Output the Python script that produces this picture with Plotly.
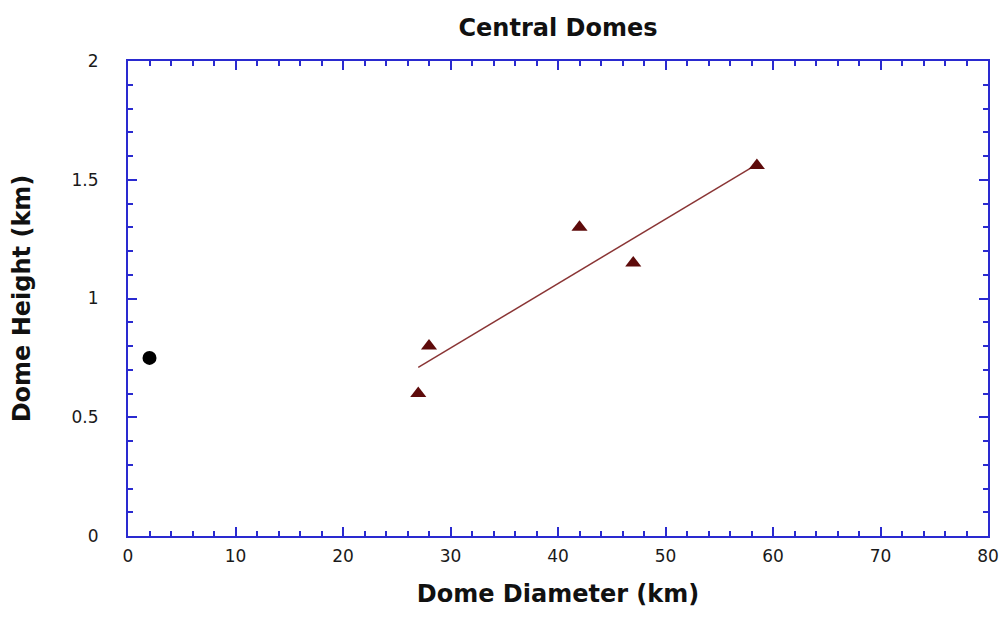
import plotly.graph_objects as go

# data
mars_x = [2]
mars_y = [0.75]
dome_x = [27, 28, 42, 47, 58.5]
dome_y = [0.60, 0.80, 1.30, 1.15, 1.56]
fit_x = [27, 58.5]
fit_y = [0.71, 1.565]

axis_color = "#2a2ad0"
font_fam = "DejaVu Sans, sans-serif"

fig = go.Figure()
fig.add_trace(go.Scatter(x=fit_x, y=fit_y, mode="lines",
                         line=dict(color="#8a3535", width=1.5), showlegend=False))
fig.add_trace(go.Scatter(x=dome_x, y=dome_y, mode="markers",
                         marker=dict(symbol="triangle-up", size=14, color="#5e0b0b"),
                         showlegend=False))
fig.add_trace(go.Scatter(x=mars_x, y=mars_y, mode="markers",
                         marker=dict(symbol="circle", size=14, color="#000000"),
                         showlegend=False))

axis_common = dict(
    showline=True, linecolor=axis_color, linewidth=2, mirror="ticks",
    ticks="inside", tickcolor=axis_color, tickwidth=2, ticklen=9,
    showgrid=False, zeroline=False, automargin=False,
    tickfont=dict(family=font_fam, size=17, color="#1a1a1a"),
)

fig.update_layout(
    width=1000, height=617,
    margin=dict(l=128, r=12, t=61, b=81),
    paper_bgcolor="white", plot_bgcolor="white",
    title=dict(text="<b>Central Domes</b>", x=0.558, xanchor="center", y=0.956, yanchor="middle",
               font=dict(family=font_fam, size=24, color="#111111")),
    xaxis=dict(range=[0, 80], tickvals=[0, 10, 20, 30, 40, 50, 60, 70, 80],
               ticklabelstandoff=4,
               minor=dict(dtick=2, ticks="inside", ticklen=5, tickwidth=2, tickcolor=axis_color),
               title=dict(text="<b>Dome Diameter (km)</b>", standoff=20,
                          font=dict(family=font_fam, size=24, color="#111111")),
               **axis_common),
    yaxis=dict(range=[0, 2], tickvals=[0, 0.5, 1, 1.5, 2], ticktext=["0", "0.5", "1", "1.5", "2"],
               ticklabelstandoff=24,
               minor=dict(dtick=0.1, ticks="inside", ticklen=5, tickwidth=2, tickcolor=axis_color),
               title=dict(text="<b>Dome Height (km)</b>", standoff=34,
                          font=dict(family=font_fam, size=24, color="#111111")),
               **axis_common),
)

fig.write_html("out.html")
